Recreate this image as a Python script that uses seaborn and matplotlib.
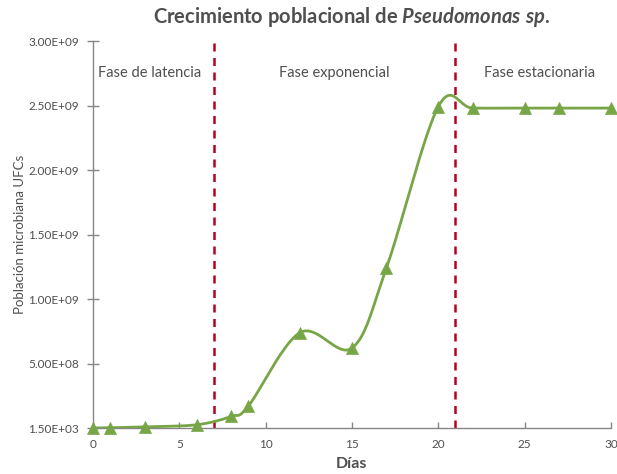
import numpy as np
import pandas as pd
import matplotlib
matplotlib.use("Agg")
import matplotlib.pyplot as plt
import seaborn as sns

# Population counts (CFU) by day
dias = [0, 1, 3, 6, 8, 9, 12, 15, 17, 20, 22, 25, 27, 30]
poblacion = [1.5e3, 2.0e6, 1.0e7, 2.5e7, 9.0e7, 1.7e8, 7.4e8, 6.2e8,
             1.24e9, 2.49e9, 2.48e9, 2.48e9, 2.48e9, 2.48e9]

# Phase boundaries and labels
limites_fase = [7, 21]
fases = ["Fase de latencia", "Fase exponencial", "Fase estacionaria"]
fases_x = [3.3, 13.95, 25.9]

y_ticks = [1.5e3, 5e8, 1e9, 1.5e9, 2e9, 2.5e9, 3e9]
y_labels = ["1.50E+03", "5.00E+08", "1.00E+09", "1.50E+09",
            "2.00E+09", "2.50E+09", "3.00E+09"]
x_ticks = [0, 5, 10, 15, 20, 25, 30]

VERDE = "#77A646"
ROJO = "#B80020"
GRIS = "#4F4F4F"


def suavizar(x, y, n=40):
    """Cubic Bezier smoothing through every point (Catmull-Rom style)."""
    p = np.column_stack([x, y]).astype(float)
    pts = np.vstack([p[0], p, p[-1]])
    out = []
    for i in range(1, len(pts) - 2):
        p0, p1, p2, p3 = pts[i - 1], pts[i], pts[i + 1], pts[i + 2]
        c1 = p1 + (p2 - p0) / 6.0
        c2 = p2 - (p3 - p1) / 6.0
        t = np.linspace(0, 1, n)[:, None]
        seg = ((1 - t) ** 3) * p1 + 3 * ((1 - t) ** 2) * t * c1 \
            + 3 * (1 - t) * t ** 2 * c2 + t ** 3 * p2
        out.append(seg if i == 1 else seg[1:])
    s = np.vstack(out)
    return s[:, 0], s[:, 1]


sns.set_theme(style="white")
plt.rcParams["font.family"] = ["Lato", "DejaVu Sans"]
plt.rcParams["mathtext.fontset"] = "custom"
plt.rcParams["mathtext.it"] = "Lato:italic:bold"
plt.rcParams["mathtext.rm"] = "Lato:bold"

fig = plt.figure(figsize=(6.17, 4.74), dpi=100)
ax = fig.add_axes([0.1507, 0.097, 0.8393, 0.8165])

sx, sy = suavizar(dias, poblacion)
curva = pd.DataFrame({"Días": sx, "Población": sy})
datos = pd.DataFrame({"Días": dias, "Población": poblacion})

sns.lineplot(data=curva, x="Días", y="Población", sort=False, ax=ax,
             color=VERDE, linewidth=2.0, zorder=3)
sns.scatterplot(data=datos, x="Días", y="Población", ax=ax, marker="^",
                s=75, color=VERDE, edgecolor=VERDE, linewidth=0.5, zorder=4,
                clip_on=False)

for xv in limites_fase:
    ax.axvline(xv, color=ROJO, linestyle=(0, (3.2, 2.6)), linewidth=1.8, zorder=2)

for txt, xv in zip(fases, fases_x):
    ax.text(xv, 2.75e9, txt, ha="center", va="center", fontsize=10.5, color=GRIS)

ax.set_xlim(0, 30)
ax.set_ylim(1.5e3, 3e9)
ax.set_xticks(x_ticks)
ax.set_xticklabels([str(v) for v in x_ticks])
ax.set_yticks(y_ticks)
ax.set_yticklabels(y_labels)

for s in ["top", "right"]:
    ax.spines[s].set_visible(False)
for s in ["left", "bottom"]:
    ax.spines[s].set_color("#868686")
    ax.spines[s].set_linewidth(1.0)

ax.tick_params(axis="y", direction="inout", length=8, width=1, color="#868686",
               labelsize=8.5, labelcolor=GRIS, pad=6, left=True)
ax.tick_params(axis="x", direction="in", length=4, width=1, color="#868686",
               labelsize=8.5, labelcolor=GRIS, pad=8, bottom=True)

ax.set_xlabel("Días", fontsize=11.5, fontweight="bold", color=GRIS, labelpad=5)
ax.set_ylabel("Población microbiana UFCs", fontsize=9.5, color=GRIS, labelpad=2)
ax.set_title("Crecimiento poblacional de $\\mathit{Pseudomonas\\ sp.}$",
             fontsize=14.5, fontweight="bold", color=GRIS, pad=13)

fig.savefig("out.png", dpi=100)
